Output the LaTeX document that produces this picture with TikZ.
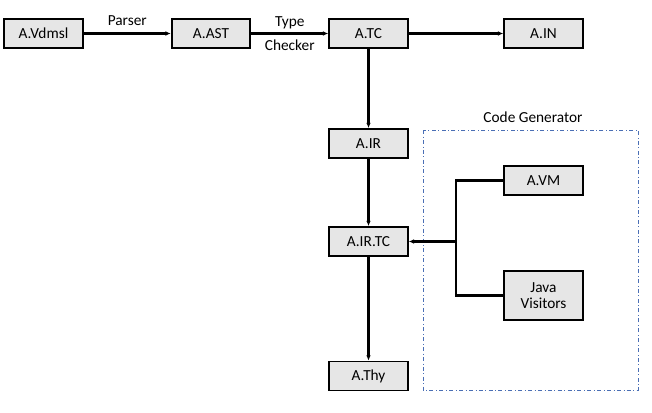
\documentclass[tikz,border=0pt]{standalone}
\usepackage{fontspec}
\setmainfont{Carlito}
\usepackage{tikz}
\usetikzlibrary{arrows.meta,positioning,calc}
\definecolor{boxgray}{HTML}{E6E6E6}
\definecolor{genblue}{HTML}{4A6FB5}
\tikzset{
  box/.style={draw, line width=1.3pt, fill=boxgray, align=center, minimum width=59pt, minimum height=21.75pt, inner sep=2pt, font=\fontsize{11.5}{12}\selectfont},
  arrow/.style={-{Latex[length=4pt,width=3.5pt]}, line width=1.6pt},
  line/.style={line width=1.6pt},
  lbl/.style={align=center, font=\fontsize{11.5}{12}\selectfont, inner sep=1pt},
}

\begin{document}
\begin{tikzpicture}[x=0.75pt,y=-0.75pt]
  \useasboundingbox (0,0) rectangle (652,412);

  % top row
  \node[box] (vdmsl) at (43.5,33.5) {A.Vdmsl};
  \node[box] (ast) at (211,33.5) {A.AST};
  \node[box] (tc) at (368.5,33.5) {A.TC};
  \node[box] (ain) at (543.5,33.5) {A.IN};

  \draw[arrow] (vdmsl) -- node[lbl, above=4pt] {Parser} (ast);
  \draw[arrow] (ast) -- node[lbl, font=\fontsize{11.5}{18.5}\selectfont] {Type\\Checker} (tc);
  \draw[arrow] (tc) -- (ain);

  % main column
  \node[box] (ir) at (368.5,143.5) {A.IR};
  \node[box] (irtc) at (368.5,241.5) {A.IR.TC};
  \node[box] (thy) at (368.5,376) {A.Thy};

  \draw[arrow] (tc) -- (ir);
  \draw[arrow] (ir) -- (irtc);
  \draw[arrow] (irtc) -- (thy);

  % code generator
  \draw[genblue, dash dot] (423,130) rectangle (638,390);
  \node[lbl] (codegen) at (533,117) {Code Generator};
  \node[box] (vm) at (543.5,180.5) {A.VM};
  \node[box, minimum height=36.75pt] (java) at (543.5,295.5) {Java\\Visitors};

  \coordinate (join) at (456,241.5);
  \draw[line] (vm) -| (join);
  \draw[line] (java) -| (join);
  \draw[arrow] (join) -- (irtc);

\end{tikzpicture}
\end{document}
